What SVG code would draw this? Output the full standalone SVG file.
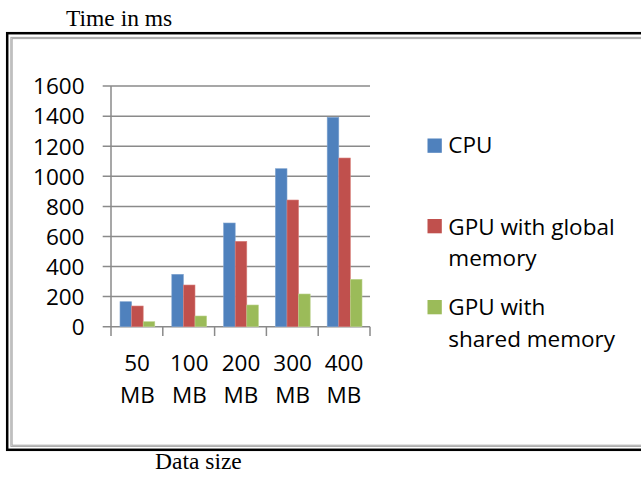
<svg xmlns="http://www.w3.org/2000/svg" width="641" height="479" viewBox="0 0 641 479">
  <style>
    .serif { font-family: "Liberation Serif", "Times New Roman", serif; font-size: 23.5px; fill: #000; }
    .lbl { font-family: "Open Sans", "Liberation Sans", sans-serif; font-size: 22.5px; fill: #000; }
    .grid { stroke: #8a8a8a; stroke-width: 1.5; fill: none; }
    .cpu { fill: #4F81BD; stroke: #7fa3d0; stroke-width: 0.6; }
    .gpug { fill: #C0504D; stroke: #d9837f; stroke-width: 0.6; }
    .gpus { fill: #9BBB59; stroke: #bcd28c; stroke-width: 0.6; }
  </style>

  <rect width="641" height="479" fill="#fff"/>

  <!-- titles -->
  <text id="title-y" class="serif" x="66" y="26">Time in ms</text>
  <text id="title-x" class="serif" x="155" y="469">Data size</text>

  <!-- outer frames (right edge runs off the page) -->
  <rect id="frame-outer" x="7.2" y="33.2" width="650" height="416.6" fill="none" stroke="#000" stroke-width="2.5"/>
  <rect id="frame-inner" x="11.5" y="38" width="650" height="407.8" fill="none" stroke="#a0a0a0" stroke-width="2.2"/>
  <rect x="11.5" y="38" width="650" height="407.8" fill="none" stroke="#d4d4d4" stroke-width="0.6"/>

  <!-- gridlines and axes -->
  <g id="axes">
    <line class="grid" x1="102.7" y1="86.1" x2="370" y2="86.1"/>
    <line class="grid" x1="102.7" y1="116.2" x2="370" y2="116.2"/>
    <line class="grid" x1="102.7" y1="146.3" x2="370" y2="146.3"/>
    <line class="grid" x1="102.7" y1="176.3" x2="370" y2="176.3"/>
    <line class="grid" x1="102.7" y1="206.4" x2="370" y2="206.4"/>
    <line class="grid" x1="102.7" y1="236.5" x2="370" y2="236.5"/>
    <line class="grid" x1="102.7" y1="266.5" x2="370" y2="266.5"/>
    <line class="grid" x1="102.7" y1="296.6" x2="370" y2="296.6"/>
    <line class="grid" x1="102.7" y1="326.7" x2="370" y2="326.7"/>
    <line class="grid" x1="111" y1="86.1" x2="111" y2="336"/>
    <line class="grid" x1="162.8" y1="326.7" x2="162.8" y2="336"/>
    <line class="grid" x1="214.6" y1="326.7" x2="214.6" y2="336"/>
    <line class="grid" x1="266.4" y1="326.7" x2="266.4" y2="336"/>
    <line class="grid" x1="318.2" y1="326.7" x2="318.2" y2="336"/>
    <line class="grid" x1="370" y1="326.7" x2="370" y2="336"/>
  </g>

  <!-- y axis labels -->
  <g id="y-labels" class="lbl" text-anchor="end">
    <text x="84.5" y="94.3">1600</text>
    <text x="84.5" y="124.4">1400</text>
    <text x="84.5" y="154.5">1200</text>
    <text x="84.5" y="184.5">1000</text>
    <text x="84.5" y="214.6">800</text>
    <text x="84.5" y="244.7">600</text>
    <text x="84.5" y="274.7">400</text>
    <text x="84.5" y="304.8">200</text>
    <text x="84.5" y="334.9">0</text>
  </g>

  <!-- x axis labels -->
  <g id="x-labels" class="lbl" text-anchor="middle">
    <text x="137" y="370.7">50</text>
    <text x="137.5" y="403.3">MB</text>
    <text x="189.3" y="370.7">100</text>
    <text x="189.3" y="403.3">MB</text>
    <text x="241" y="370.7">200</text>
    <text x="241" y="403.3">MB</text>
    <text x="292.6" y="370.7">300</text>
    <text x="292.6" y="403.3">MB</text>
    <text x="344" y="370.7">400</text>
    <text x="344" y="403.3">MB</text>
  </g>

  <!-- bars -->
  <g id="series-cpu">
    <rect class="cpu" x="120" y="301.7" width="11.6" height="25"/>
    <rect class="cpu" x="171.8" y="274.3" width="11.6" height="52.4"/>
    <rect class="cpu" x="223.6" y="223" width="11.6" height="103.7"/>
    <rect class="cpu" x="275.4" y="168.7" width="11.6" height="158"/>
    <rect class="cpu" x="327.2" y="117.3" width="11.6" height="209.4"/>
  </g>
  <g id="series-gpu-global">
    <rect class="gpug" x="131.6" y="306" width="11.6" height="20.7"/>
    <rect class="gpug" x="183.4" y="285" width="11.6" height="41.7"/>
    <rect class="gpug" x="235.2" y="241.3" width="11.6" height="85.4"/>
    <rect class="gpug" x="287" y="200" width="11.6" height="126.7"/>
    <rect class="gpug" x="338.8" y="158" width="11.6" height="168.7"/>
  </g>
  <g id="series-gpu-shared">
    <rect class="gpus" x="143.2" y="321.7" width="11.6" height="5"/>
    <rect class="gpus" x="195" y="316" width="11.6" height="10.7"/>
    <rect class="gpus" x="246.8" y="305" width="11.6" height="21.7"/>
    <rect class="gpus" x="298.6" y="294" width="11.6" height="32.7"/>
    <rect class="gpus" x="350.4" y="279.3" width="11.6" height="47.4"/>
  </g>

  <!-- legend -->
  <g id="legend-cpu">
    <rect x="427.5" y="138.5" width="14.3" height="14.3" fill="#4F81BD"/>
    <text class="lbl" x="448.3" y="153">CPU</text>
  </g>
  <g id="legend-gpu-global">
    <rect x="427.5" y="219" width="14.3" height="14.3" fill="#C0504D"/>
    <text class="lbl" x="448.3" y="234.5">GPU with global</text>
    <text class="lbl" x="448.3" y="266">memory</text>
  </g>
  <g id="legend-gpu-shared">
    <rect x="427.5" y="300" width="14.3" height="14.3" fill="#9BBB59"/>
    <text class="lbl" x="448.3" y="315.3">GPU with</text>
    <text class="lbl" x="448.3" y="346.7">shared memory</text>
  </g>
</svg>
